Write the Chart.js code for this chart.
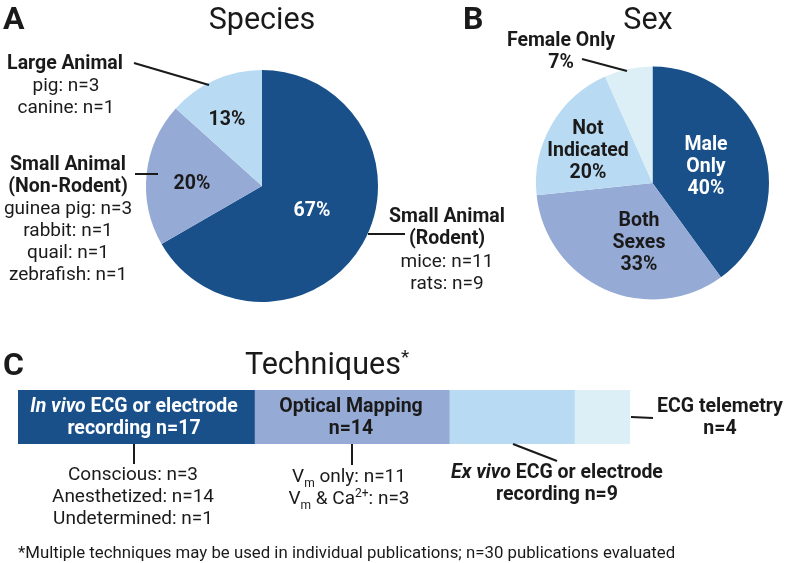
<!DOCTYPE html>
<html>
<head>
<meta charset="utf-8">
<script src="https://cdn.jsdelivr.net/npm/chart.js@4"></script>
<style>
  body { margin: 0; background: #fff; }
  #wrap { position: relative; width: 786px; height: 563px; overflow: hidden;
          font-family: Roboto, 'Noto Sans', sans-serif; color: #1a1a1a; }
  #wrap canvas { position: absolute; left: 0; top: 0; }
  #lines { position: absolute; left: 0; top: 0; }
  .lbl { position: absolute; white-space: nowrap; transform: translate(-50%, -50%);
         font-size: 19px; line-height: 22px; text-align: center; }
  .b { font-weight: bold; font-size: 19.5px; }
  .w { color: #fff; }
  .big { font-size: 30.5px; line-height: 34px; }
  .panel { font-size: 32px; font-weight: bold; transform: translate(0, -50%); }
  .note { font-size: 16.8px; transform: translate(0, -50%); }
  sub, sup { font-size: 12px; line-height: 0; }
</style>
</head>
<body>
<div id="wrap">
  <canvas id="pieA" width="786" height="563"></canvas>
  <canvas id="pieB" width="786" height="563"></canvas>
  <canvas id="barC" width="786" height="563"></canvas>
  <svg id="lines" width="786" height="563"></svg>
</div>
<script>
// Panel A: species
const speciesGroups = ['Small Animal (Rodent)', 'Small Animal (Non-Rodent)', 'Large Animal'];
const speciesCounts = [20, 6, 4];
const speciesColors = ['#19508a', '#95aad4', '#b9daf3'];

// Panel B: sex
const sexGroups = ['Male Only', 'Both Sexes', 'Not Indicated', 'Female Only'];
const sexCounts = [12, 10, 6, 2];
const sexColors = ['#19508a', '#95aad4', '#b9daf3', '#ddeff6'];

// Panel C: techniques (publications, several per paper possible)
const techniques = ['In vivo ECG or electrode recording', 'Optical Mapping', 'Ex vivo ECG or electrode recording', 'ECG telemetry'];
const techniqueCounts = [17, 14, 9, 4];
const techniqueColors = ['#19508a', '#95aad4', '#b9daf3', '#ddeff6'];
const techniqueMax = 44;

Chart.defaults.font.family = "Roboto, 'Noto Sans', sans-serif";
Chart.defaults.devicePixelRatio = 1;

const noExtras = {
  legend: { display: false },
  tooltip: { enabled: false }
};

function pct(v, arr) {
  const total = arr.reduce((a, b) => a + b, 0);
  return Math.round(v / total * 100) + '%';
}

new Chart(document.getElementById('pieA'), {
  type: 'pie',
  data: {
    labels: speciesGroups,
    datasets: [{ data: speciesCounts, backgroundColor: speciesColors, borderWidth: 0 }]
  },
  options: {
    responsive: false,
    animation: false,
    layout: { padding: { left: 146, top: 70, right: 408, bottom: 261 } },
    plugins: noExtras
  }
});

new Chart(document.getElementById('pieB'), {
  type: 'pie',
  data: {
    labels: sexGroups,
    datasets: [{ data: sexCounts, backgroundColor: sexColors, borderWidth: 0 }]
  },
  options: {
    responsive: false,
    animation: false,
    layout: { padding: { left: 536, top: 66, right: 17, bottom: 263 } },
    plugins: noExtras
  }
});

new Chart(document.getElementById('barC'), {
  type: 'bar',
  data: {
    labels: ['Techniques'],
    datasets: techniques.map((t, i) => ({
      label: t,
      data: [techniqueCounts[i]],
      backgroundColor: techniqueColors[i],
      borderWidth: 0,
      barPercentage: 1,
      categoryPercentage: 1
    }))
  },
  options: {
    indexAxis: 'y',
    responsive: false,
    animation: false,
    layout: { padding: { left: 18, top: 390, right: 156, bottom: 119 } },
    scales: {
      x: { stacked: true, min: 0, max: techniqueMax, display: false },
      y: { stacked: true, display: false }
    },
    plugins: noExtras
  }
});

// text labels
const wrap = document.getElementById('wrap');
function label(x, y, html, cls) {
  const d = document.createElement('div');
  d.className = 'lbl ' + (cls || '');
  d.style.left = x + 'px';
  d.style.top = y + 'px';
  d.innerHTML = html;
  wrap.appendChild(d);
}
function block(x, y, lines, cls) {
  lines.forEach((l, i) => label(x, y + i * 22, l, cls));
}

label(3, 18, 'A', 'panel');
label(463, 18, 'B', 'panel');
label(3, 364, 'C', 'panel');
label(262, 19, 'Species', 'big');
label(648, 19, 'Sex', 'big');
label(327, 364, 'Techniques<sup style="font-size:19px">*</sup>', 'big');

// panel A
block(65, 63, ['Large Animal'], 'b');
block(66, 85, ['pig: n=3', 'canine: n=1']);
block(68, 164, ['Small Animal', '(Non-Rodent)'], 'b');
block(68, 208, ['guinea pig: n=3', 'rabbit: n=1', 'quail: n=1', 'zebrafish: n=1']);
block(447, 216, ['Small Animal', '(Rodent)'], 'b');
block(447, 261, ['mice: n=11', 'rats: n=9']);
label(227, 119, pct(speciesCounts[2], speciesCounts), 'b');
label(192, 183, pct(speciesCounts[1], speciesCounts), 'b');
label(312, 210, pct(speciesCounts[0], speciesCounts), 'b w');

// panel B
block(561, 40, ['Female Only', pct(sexCounts[3], sexCounts)], 'b');
block(588, 128, ['Not', 'Indicated', pct(sexCounts[2], sexCounts)], 'b');
block(706, 144, ['Male', 'Only', pct(sexCounts[0], sexCounts)], 'b w');
block(639, 220, ['Both', 'Sexes', pct(sexCounts[1], sexCounts)], 'b');

// panel C
block(134, 406, ['<i>In vivo</i> ECG or electrode', 'recording n=' + techniqueCounts[0]], 'b w');
block(351, 406, ['Optical Mapping', 'n=' + techniqueCounts[1]], 'b');
block(557, 472, ['<i>Ex vivo</i> ECG or electrode', 'recording n=' + techniqueCounts[2]], 'b');
block(720, 406, ['ECG telemetry', 'n=' + techniqueCounts[3]], 'b');
block(133, 474, ['Conscious: n=3', 'Anesthetized: n=14', 'Undetermined: n=1']);
block(349, 476, ['V<sub>m</sub> only: n=11', 'V<sub>m</sub> &amp; Ca<sup>2+</sup>: n=3']);

const note = document.createElement('div');
note.className = 'lbl note';
note.style.left = '18px';
note.style.top = '552px';
note.textContent = '*Multiple techniques may be used in individual publications; n=30 publications evaluated';
wrap.appendChild(note);

// leader lines
const leaders = [
  [134, 63, 209, 85],
  [135, 174, 158, 174],
  [368, 234, 405, 234],
  [582, 59, 627, 71],
  [134, 444, 134, 464],
  [352, 444, 352, 465],
  [513, 444, 557, 461],
  [631, 417, 653, 418]
];
const svg = document.getElementById('lines');
svg.innerHTML = leaders.map(l =>
  `<line x1="${l[0]}" y1="${l[1]}" x2="${l[2]}" y2="${l[3]}" stroke="#1a1a1a" stroke-width="2"/>`
).join('');
</script>
</body>
</html>
